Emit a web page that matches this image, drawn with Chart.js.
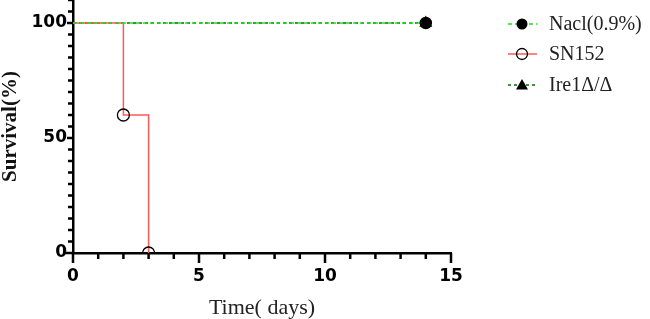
<!DOCTYPE html>
<html>
<head>
<meta charset="utf-8">
<script src="https://cdn.jsdelivr.net/npm/chart.js@4/dist/chart.umd.min.js"></script>
<style>
  html, body { margin: 0; padding: 0; background: #fff; }
  #wrap { width: 650px; height: 319px; position: relative; }
</style>
</head>
<body>
<div id="wrap"><canvas id="chart"></canvas></div>
<script>
// survival data (days, %)
const seriesNames = ['Nacl(0.9%)', 'SN152', 'Ire1Δ/Δ'];
const naclDays = [0, 14];
const naclSurvival = [100, 100];
const sn152Days = [0, 2, 3];
const sn152Survival = [100, 60, 0];
const ire1Days = [0, 14];
const ire1Survival = [100, 100];
const xTickLabels = [0, 5, 10, 15];
const yTickLabels = [0, 50, 100];

const toPoints = (xs, ys) => xs.map((x, i) => ({ x: x, y: ys[i] }));
const hideFirst = r => ctx => ctx.dataIndex === 0 ? 0 : r;

// prism-style tick marks (major / minor)
const tickMarks = {
  id: 'tickMarks',
  afterDraw(chart) {
    const { ctx, chartArea, scales } = chart;
    ctx.save();
    ctx.strokeStyle = '#000';
    ctx.lineWidth = 2.5;
    for (let v = 0; v <= 15; v++) {
      const px = scales.x.getPixelForValue(v);
      const len = xTickLabels.includes(v) ? 10 : 6;
      ctx.beginPath();
      ctx.moveTo(px, chartArea.bottom);
      ctx.lineTo(px, chartArea.bottom + len);
      ctx.stroke();
    }
    for (let v = 0; v <= 110; v += 5) {
      const py = scales.y.getPixelForValue(v);
      const len = v === 0 ? 10 : (yTickLabels.includes(v) ? 6 : 5);
      ctx.beginPath();
      ctx.moveTo(chartArea.left, py);
      ctx.lineTo(chartArea.left - len, py);
      ctx.stroke();
    }
    ctx.restore();
  }
};

// legend on the right: line sample + marker + label
const sideLegend = {
  id: 'sideLegend',
  afterDraw(chart) {
    const ctx = chart.ctx;
    const rows = [24, 54, 85];
    chart.data.datasets.forEach((ds, i) => {
      const y = rows[i];
      ctx.save();
      ctx.strokeStyle = ds.borderColor;
      ctx.lineWidth = 1.5;
      ctx.setLineDash(ds.borderDash || []);
      ctx.beginPath();
      ctx.moveTo(508, y);
      ctx.lineTo(537, y);
      ctx.stroke();
      ctx.setLineDash([]);
      ctx.fillStyle = '#000';
      ctx.strokeStyle = '#000';
      ctx.lineWidth = 1.3;
      if (ds.pointStyle === 'triangle') {
        ctx.beginPath();
        ctx.moveTo(522, y - 6);
        ctx.lineTo(528, y + 4.5);
        ctx.lineTo(516, y + 4.5);
        ctx.closePath();
        ctx.fill();
      } else {
        ctx.beginPath();
        ctx.arc(522, y, 5.5, 0, Math.PI * 2);
        if (ds.pointBackgroundColor === '#000') ctx.fill(); else ctx.stroke();
      }
      ctx.fillStyle = '#222';
      ctx.font = '20px "Liberation Serif", serif';
      ctx.textBaseline = 'middle';
      ctx.fillText(ds.label, 549, y + 1);
      ctx.restore();
    });
  }
};

new Chart(document.getElementById('chart'), {
  type: 'line',
  data: {
    datasets: [
      {
        label: seriesNames[0],
        data: toPoints(naclDays, naclSurvival),
        borderColor: '#22dd22',
        borderWidth: 1.5,
        borderDash: [4, 3],
        pointStyle: 'circle',
        pointRadius: hideFirst(5.5),
        pointBackgroundColor: '#000',
        pointBorderColor: '#000'
      },
      {
        label: seriesNames[1],
        data: toPoints(sn152Days, sn152Survival),
        borderColor: '#ff5a5a',
        borderWidth: 1.5,
        stepped: 'before',
        pointStyle: 'circle',
        pointRadius: hideFirst(6),
        pointBorderWidth: 1.3,
        pointBackgroundColor: 'rgba(0,0,0,0)',
        pointBorderColor: '#000'
      },
      {
        label: seriesNames[2],
        data: toPoints(ire1Days, ire1Survival),
        borderColor: '#0a6a0a',
        borderWidth: 1.5,
        borderDash: [3, 3],
        pointStyle: 'triangle',
        pointRadius: hideFirst(6),
        pointBackgroundColor: '#000',
        pointBorderColor: '#000'
      }
    ]
  },
  options: {
    responsive: true,
    maintainAspectRatio: false,
    animation: false,
    layout: { autoPadding: false, padding: { left: 0, right: 199, top: 0, bottom: 0 } },
    plugins: { legend: { display: false }, tooltip: { enabled: false } },
    elements: { line: { tension: 0 } },
    scales: {
      x: {
        type: 'linear',
        min: 0,
        max: 15,
        afterFit: s => { s.height = 66; s.paddingLeft = 0; s.paddingRight = 0; },
        border: { color: '#000', width: 2.5 },
        grid: { display: true, drawOnChartArea: false, drawTicks: false, color: 'rgba(0,0,0,0)' },
        ticks: {
          stepSize: 1,
          autoSkip: false,
          maxRotation: 0,
          padding: 13,
          color: '#000',
          font: { family: '"DejaVu Sans", sans-serif', weight: 'bold', size: 17 },
          callback: v => xTickLabels.includes(v) ? String(v) : ''
        },
        title: {
          display: true,
          text: 'Time( days)',
          color: '#222',
          padding: 0,
          font: { family: '"Liberation Serif", serif', size: 22, lineHeight: 1 }
        }
      },
      y: {
        min: 0,
        max: 110,
        afterFit: s => { s.width = 73; s.paddingTop = 0; s.paddingBottom = 0; },
        border: { color: '#000', width: 2.5 },
        grid: { display: true, drawOnChartArea: false, drawTicks: false, color: 'rgba(0,0,0,0)' },
        ticks: {
          stepSize: 5,
          autoSkip: false,
          padding: 6,
          color: '#000',
          font: { family: '"DejaVu Sans", sans-serif', weight: 'bold', size: 17 },
          callback: v => yTickLabels.includes(v) ? String(v) : ''
        },
        title: {
          display: true,
          text: 'Survival(%)',
          color: '#111',
          padding: 0,
          font: { family: '"Liberation Serif", serif', weight: 'bold', size: 21, lineHeight: 1 }
        }
      }
    }
  },
  plugins: [tickMarks, sideLegend]
});
</script>
</body>
</html>
